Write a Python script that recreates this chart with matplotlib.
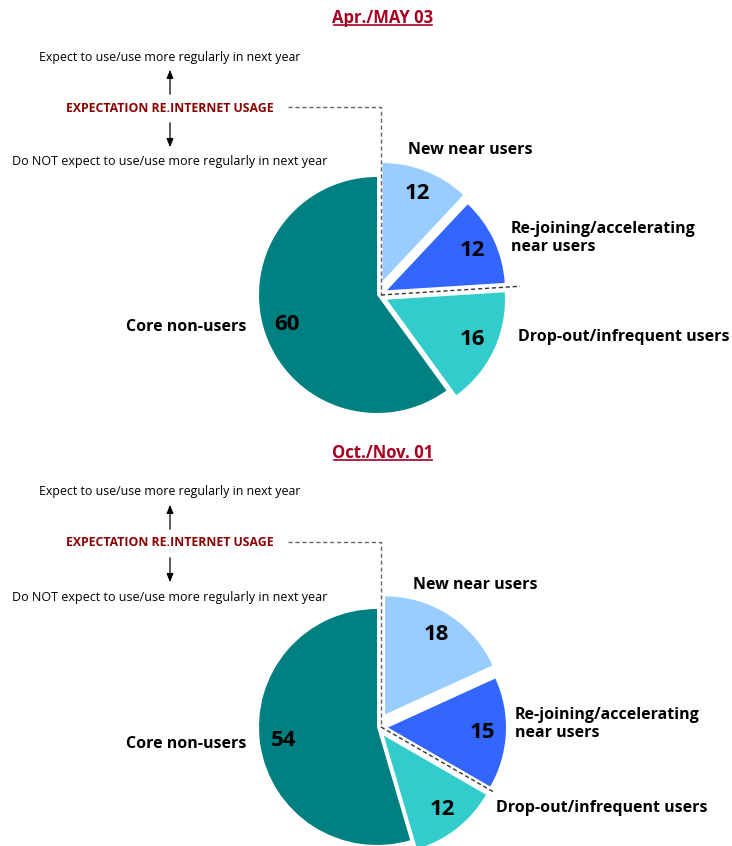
import numpy as np
import matplotlib
matplotlib.use("Agg")
import matplotlib.pyplot as plt

plt.rcParams['font.family'] = ['Open Sans', 'Noto Sans', 'DejaVu Sans']

segments = ["New near users", "Re-joining/accelerating\nnear users",
            "Drop-out/infrequent users", "Core non-users"]
titles = ["Apr./MAY 03", "Oct./Nov. 01"]
values_2003 = [12, 12, 16, 60]
values_2001 = [18, 15, 12, 54]
colors = ["#99CCFF", "#3366FF", "#33CCCC", "#008080"]

up_text = "Expect to use/use more regularly in next year"
mid_text = "EXPECTATION RE.INTERNET USAGE"
down_text = "Do NOT expect to use/use more regularly in next year"

W, H = 732, 846
fig = plt.figure(figsize=(W / 100, H / 100), dpi=100)
ax = fig.add_axes([0, 0, 1, 1])

R = 118
explode = [15, 11, 11, 0]   # pie explode is in data units here
titles_txt = []


def panel(vals, title, ty, cx, cy, lab_pos):
    t = ax.text(383, ty, title, ha='center', va='center', fontsize=12,
                fontweight='bold', color='#A50021')
    titles_txt.append(t)

    # expectation annotation
    y0 = ty + 39
    ax.text(170, y0, up_text, ha='center', va='center', fontsize=8.9)
    ax.text(170, y0 + 51, mid_text, ha='center', va='center', fontsize=8.8,
            fontweight='bold', color='#8B0000')
    ax.text(170, y0 + 105, down_text, ha='center', va='center', fontsize=9.0)
    arr = dict(arrowstyle='-|>,head_length=0.5,head_width=0.2', color='black', lw=0.9)
    ax.annotate('', xy=(170, y0 + 10), xytext=(170, y0 + 40), arrowprops=arr)
    ax.annotate('', xy=(170, y0 + 93), xytext=(170, y0 + 63), arrowprops=arr)

    # y axis is inverted, so startangle -90 + counterclock = clockwise from top
    wedges, _, autotexts = ax.pie(
        vals, colors=colors, explode=explode, radius=R, center=(cx, cy),
        startangle=-90, counterclock=True, autopct='%1.1f', pctdistance=0.8,
        wedgeprops=dict(linewidth=0), frame=True)
    for a, v in zip(autotexts, vals):
        a.set_text(str(v))
        a.set_fontsize(16)
        a.set_fontweight('bold')
        a.set_color('black')

    # dashed split line between "expect" and "not expect"
    frac = (vals[0] + vals[1]) / sum(vals)
    ang = np.deg2rad(-90 + 360 * frac)
    L = R * (1.18 if frac < 0.3 else 1.11)
    ax.plot([288, cx + 4, cx + 4], [y0 + 50, y0 + 50, cy], ls=(0, (3, 2)),
            color='#666666', lw=1)
    ax.plot([cx + 4, cx + 4 + L * np.cos(ang)], [cy, cy + L * np.sin(ang)],
            ls=(0, (3, 2)), color='#333333', lw=1)

    for name, (x, y, ha) in zip(segments, lab_pos):
        ax.text(x, y, name, ha=ha, va='center', fontsize=11.5, fontweight='bold',
                linespacing=1.15)


panel(values_2003, titles[0], 18, 377, 295,
      [(470, 150, 'center'), (511, 238, 'left'), (518, 337, 'left'),
       (246, 327, 'right')])
panel(values_2001, titles[1], 453, 377, 727,
      [(475, 585, 'center'), (515, 724, 'left'), (496, 808, 'left'),
       (246, 744, 'right')])

ax.set_xlim(0, W)
ax.set_ylim(H, 0)
ax.set_aspect('equal')
ax.axis('off')

# underline titles
fig.canvas.draw()
for t in titles_txt:
    bb = t.get_window_extent()
    fig.lines.append(plt.Line2D([(bb.x0 + 2) / W, (bb.x1 - 2) / W], [(bb.y0 + 2) / H] * 2,
                                transform=fig.transFigure, color='#A50021', lw=1.2))

fig.savefig("out.png", dpi=100)
